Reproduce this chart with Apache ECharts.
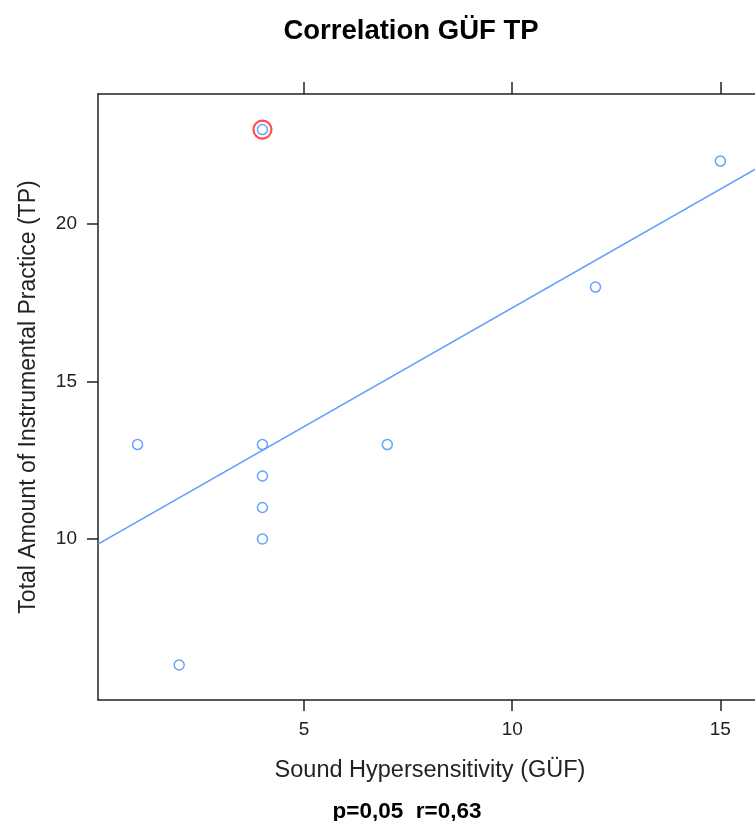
<!DOCTYPE html>
<html><head><meta charset="utf-8">
<script src="https://cdn.jsdelivr.net/npm/echarts@6/dist/echarts.min.js"></script>
<style>html,body{margin:0;padding:0;background:#fff}#c{width:755px;height:821px}</style>
</head><body><div id="c"></div>
<script>
const xValues = [1, 2, 4, 4, 4, 4, 4, 7, 12, 15];
const yValues = [13, 6, 13, 12, 11, 10, 23, 13, 18, 22];
const highlighted = [[4, 23]];
const xTicks = [5, 10, 15];
const yTicks = [10, 15, 20];
const titleText = 'Correlation GÜF TP';
const subText = 'p=0,05  r=0,63';

const XMIN = 0.05, XMAX = 16.0, YMIN = 4.89, YMAX = 24.13;
const n = xValues.length;
const mx = xValues.reduce((a,b)=>a+b,0)/n, my = yValues.reduce((a,b)=>a+b,0)/n;
let sxy=0, sxx=0;
for (let i=0;i<n;i++){ sxy+=(xValues[i]-mx)*(yValues[i]-my); sxx+=(xValues[i]-mx)**2; }
const slope = sxy/sxx, icpt = my - slope*mx;
const fitLine = [[XMIN, icpt+slope*XMIN],[XMAX, icpt+slope*XMAX]];
const pts = xValues.map((x,i)=>[x, yValues[i]]);

const FONT = 'Liberation Sans, Arial, sans-serif';
const chart = echarts.init(document.getElementById('c'), null, {renderer:'canvas'});
const axisLine = {show:true, lineStyle:{color:'#222', width:1.5}};
chart.setOption({
  animation:false,
  title:[
    {text:titleText, left:406, top:12, textAlign:'center', textStyle:{fontFamily:FONT, fontSize:27.5, fontWeight:'bold', color:'#000'}},
    {text:subText, left:402, top:795, textAlign:'center', textStyle:{fontFamily:FONT, fontSize:22.5, fontWeight:'bold', color:'#000'}}
  ],
  grid:{left:98, top:94, width:664, height:606, outerBoundsMode:'none', containLabel:false},
  xAxis:[
    {type:'value', min:XMIN, max:XMAX, position:'bottom',
     name:'Sound Hypersensitivity (GÜF)', nameLocation:'middle', nameGap:59,
     nameTextStyle:{fontFamily:FONT, fontSize:23.5, color:'#222'},
     axisLine:axisLine, splitLine:{show:false},
     axisTick:{show:true, length:11, lineStyle:{color:'#222', width:1.5}, customValues:xTicks},
     axisLabel:{fontFamily:FONT, fontSize:19, color:'#222', margin:20, customValues:xTicks}},
    {type:'value', min:XMIN, max:XMAX, position:'top',
     axisLine:axisLine, splitLine:{show:false},
     axisTick:{show:true, length:12, lineStyle:{color:'#222', width:1.5}, customValues:xTicks},
     axisLabel:{show:false}}
  ],
  yAxis:[
    {type:'value', min:YMIN, max:YMAX, position:'left',
     name:'Total Amount of Instrumental Practice (TP)', nameLocation:'middle', nameGap:58, nameRotate:90,
     nameTextStyle:{fontFamily:FONT, fontSize:23, color:'#222'},
     axisLine:axisLine, splitLine:{show:false},
     axisTick:{show:true, length:11, lineStyle:{color:'#222', width:1.5}, customValues:yTicks},
     axisLabel:{fontFamily:FONT, fontSize:19, color:'#222', margin:21, customValues:yTicks}},
    {type:'value', min:YMIN, max:YMAX, position:'right',
     axisLine:axisLine, splitLine:{show:false}, axisTick:{show:false}, axisLabel:{show:false}}
  ],
  series:[
    {type:'line', data:fitLine, symbol:'none', clip:true, silent:true,
     lineStyle:{color:'#5a9cff', width:1.5}},
    {type:'scatter', data:highlighted, symbol:'circle', symbolSize:18, silent:true,
     itemStyle:{color:'rgba(0,0,0,0)', borderColor:'#ff2020', borderWidth:2.2}},
    {type:'scatter', data:pts, symbol:'circle', symbolSize:10,
     itemStyle:{color:'#fff', borderColor:'#3d8bff', borderWidth:1.5}}
  ]
});
</script></body></html>
